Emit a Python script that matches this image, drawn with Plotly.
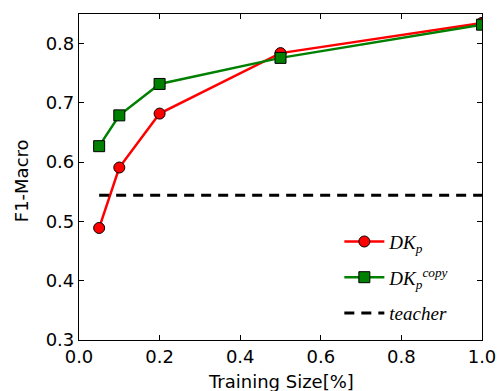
import plotly.graph_objects as go

train_size = [0.05, 0.1, 0.2, 0.5, 1.0]
dkp = [0.489, 0.591, 0.682, 0.784, 0.835]
dkp_copy = [0.627, 0.679, 0.732, 0.776, 0.832]
teacher_x = [0.05, 1.0]
teacher = [0.544, 0.544]
x_ticks = [0.0, 0.2, 0.4, 0.6, 0.8, 1.0]
y_ticks = [0.3, 0.4, 0.5, 0.6, 0.7, 0.8]

fig = go.Figure()
fig.add_trace(go.Scatter(
    x=train_size, y=dkp, mode="lines+markers",
    name="<i>DK</i><sub><i>p</i></sub>",
    line=dict(color="#ff0000", width=2.5),
    marker=dict(symbol="circle", size=11, color="#ff0000", line=dict(color="black", width=1)),
    legendgroup="a",
))
fig.add_trace(go.Scatter(
    x=train_size, y=dkp_copy, mode="lines+markers",
    name="<i>DK</i><sub><i>p</i></sub><sup><i>copy</i></sup>",
    line=dict(color="#008000", width=2.5),
    marker=dict(symbol="square", size=11, color="#008000", line=dict(color="black", width=1)),
    legendgroup="b",
))
fig.add_trace(go.Scatter(
    x=teacher_x, y=teacher, mode="lines",
    name="<i>teacher</i>",
    line=dict(color="black", width=3, dash="10px,7px"),
    legendgroup="c",
))

axis_common = dict(
    showline=True, linecolor="black", linewidth=1.2, mirror="ticks",
    ticks="inside", ticklen=5, tickwidth=1, tickcolor="black",
    showgrid=False, zeroline=False,
    tickfont=dict(family="DejaVu Sans", size=18, color="black"),
)

fig.update_layout(
    width=500, height=391,
    margin=dict(l=79, r=18, t=14, b=51),
    plot_bgcolor="white", paper_bgcolor="white",
    xaxis=dict(range=[0, 1], tickvals=x_ticks, ticktext=[f"{v:.1f}" for v in x_ticks],
               automargin=False, **axis_common),
    yaxis=dict(range=[0.3, 0.85], tickvals=y_ticks, ticktext=[f"{v:.1f}" for v in y_ticks],
               automargin=False, **axis_common),
    showlegend=True,
    legend=dict(
        x=0.646, y=0.36, xanchor="left", yanchor="top",
        bgcolor="rgba(0,0,0,0)", borderwidth=0,
        font=dict(family="Liberation Serif", size=19, color="black"),
        tracegroupgap=8, itemwidth=40,
    ),
    annotations=[
        dict(text="Training Size[%]", xref="paper", yref="paper", x=0.5, y=-0.128,
             xanchor="center", yanchor="middle", showarrow=False,
             font=dict(family="DejaVu Sans", size=18, color="black")),
        dict(text="F1-Macro", xref="paper", yref="paper", x=-0.144, y=0.49,
             xanchor="center", yanchor="middle", showarrow=False, textangle=-90,
             font=dict(family="DejaVu Sans", size=18, color="black")),
    ],
)

fig.write_html("out.html", config={"displayModeBar": False},
               post_script="document.body.style.margin='0';")
